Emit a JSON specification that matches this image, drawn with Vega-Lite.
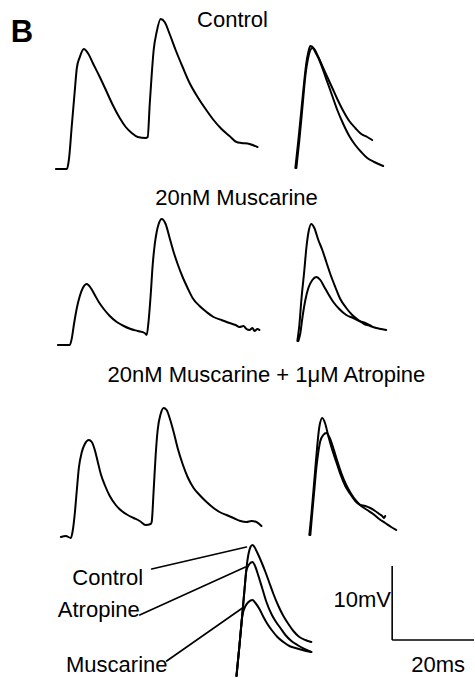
{
  "$schema": "https://vega.github.io/schema/vega-lite/v6.json",
  "width": 475,
  "height": 678,
  "autosize": {"type": "fit", "contains": "padding"},
  "padding": 0,
  "background": "white",
  "config": {"view": {"stroke": null}},
  "datasets": {
    "traces": [
      {"trace":"Control pair","t":56,"v":169},{"trace":"Control pair","t":67,"v":169},{"trace":"Control pair","t":69,"v":160},{"trace":"Control pair","t":72,"v":125},{"trace":"Control pair","t":75,"v":90},{"trace":"Control pair","t":77,"v":68},{"trace":"Control pair","t":80,"v":57},{"trace":"Control pair","t":84,"v":49},{"trace":"Control pair","t":88,"v":53},{"trace":"Control pair","t":93,"v":63},{"trace":"Control pair","t":100,"v":77},{"trace":"Control pair","t":107,"v":92},{"trace":"Control pair","t":113,"v":105},{"trace":"Control pair","t":120,"v":118},{"trace":"Control pair","t":126,"v":127},{"trace":"Control pair","t":132,"v":133},{"trace":"Control pair","t":138,"v":137},{"trace":"Control pair","t":146,"v":138},{"trace":"Control pair","t":148,"v":137},{"trace":"Control pair","t":150,"v":105},{"trace":"Control pair","t":152,"v":75},{"trace":"Control pair","t":154,"v":50},{"trace":"Control pair","t":157,"v":32},{"trace":"Control pair","t":161,"v":19},{"trace":"Control pair","t":165,"v":22},{"trace":"Control pair","t":170,"v":34},{"trace":"Control pair","t":176,"v":50},{"trace":"Control pair","t":183,"v":67},{"trace":"Control pair","t":190,"v":83},{"trace":"Control pair","t":198,"v":97},{"trace":"Control pair","t":206,"v":109},{"trace":"Control pair","t":214,"v":120},{"trace":"Control pair","t":222,"v":129},{"trace":"Control pair","t":230,"v":136},{"trace":"Control pair","t":237,"v":142},{"trace":"Control pair","t":242,"v":143},{"trace":"Control pair","t":250,"v":144},{"trace":"Control pair","t":258,"v":147},

      {"trace":"Control overlay 1","t":296,"v":168},{"trace":"Control overlay 1","t":299,"v":140},{"trace":"Control overlay 1","t":302,"v":110},{"trace":"Control overlay 1","t":305,"v":80},{"trace":"Control overlay 1","t":307,"v":63},{"trace":"Control overlay 1","t":309,"v":52},{"trace":"Control overlay 1","t":311,"v":46},{"trace":"Control overlay 1","t":315,"v":49},{"trace":"Control overlay 1","t":319,"v":57},{"trace":"Control overlay 1","t":323,"v":66},{"trace":"Control overlay 1","t":328,"v":77},{"trace":"Control overlay 1","t":333,"v":88},{"trace":"Control overlay 1","t":338,"v":99},{"trace":"Control overlay 1","t":344,"v":111},{"trace":"Control overlay 1","t":350,"v":121},{"trace":"Control overlay 1","t":356,"v":128},{"trace":"Control overlay 1","t":362,"v":134},{"trace":"Control overlay 1","t":368,"v":137},{"trace":"Control overlay 1","t":373,"v":140},

      {"trace":"Control overlay 2","t":297,"v":168},{"trace":"Control overlay 2","t":300,"v":140},{"trace":"Control overlay 2","t":303,"v":108},{"trace":"Control overlay 2","t":306,"v":76},{"trace":"Control overlay 2","t":309,"v":57},{"trace":"Control overlay 2","t":313,"v":48},{"trace":"Control overlay 2","t":317,"v":54},{"trace":"Control overlay 2","t":320,"v":60},{"trace":"Control overlay 2","t":323,"v":68},{"trace":"Control overlay 2","t":328,"v":82},{"trace":"Control overlay 2","t":333,"v":96},{"trace":"Control overlay 2","t":338,"v":110},{"trace":"Control overlay 2","t":344,"v":124},{"trace":"Control overlay 2","t":350,"v":136},{"trace":"Control overlay 2","t":356,"v":145},{"trace":"Control overlay 2","t":362,"v":152},{"trace":"Control overlay 2","t":368,"v":158},{"trace":"Control overlay 2","t":375,"v":162},{"trace":"Control overlay 2","t":384,"v":166},

      {"trace":"Muscarine pair","t":58,"v":345},{"trace":"Muscarine pair","t":70,"v":345},{"trace":"Muscarine pair","t":72,"v":338},{"trace":"Muscarine pair","t":74,"v":325},{"trace":"Muscarine pair","t":77,"v":308},{"trace":"Muscarine pair","t":80,"v":296},{"trace":"Muscarine pair","t":83,"v":288},{"trace":"Muscarine pair","t":87,"v":284},{"trace":"Muscarine pair","t":91,"v":288},{"trace":"Muscarine pair","t":95,"v":295},{"trace":"Muscarine pair","t":99,"v":302},{"trace":"Muscarine pair","t":104,"v":309},{"trace":"Muscarine pair","t":110,"v":316},{"trace":"Muscarine pair","t":117,"v":322},{"trace":"Muscarine pair","t":124,"v":326},{"trace":"Muscarine pair","t":131,"v":329},{"trace":"Muscarine pair","t":138,"v":331},{"trace":"Muscarine pair","t":145,"v":333},{"trace":"Muscarine pair","t":147,"v":335},{"trace":"Muscarine pair","t":149,"v":320},{"trace":"Muscarine pair","t":151,"v":295},{"trace":"Muscarine pair","t":153,"v":265},{"trace":"Muscarine pair","t":155,"v":245},{"trace":"Muscarine pair","t":157,"v":232},{"trace":"Muscarine pair","t":159,"v":224},{"trace":"Muscarine pair","t":162,"v":219},{"trace":"Muscarine pair","t":166,"v":224},{"trace":"Muscarine pair","t":170,"v":238},{"trace":"Muscarine pair","t":174,"v":252},{"trace":"Muscarine pair","t":178,"v":264},{"trace":"Muscarine pair","t":183,"v":277},{"trace":"Muscarine pair","t":188,"v":288},{"trace":"Muscarine pair","t":193,"v":298},{"trace":"Muscarine pair","t":200,"v":306},{"trace":"Muscarine pair","t":207,"v":312},{"trace":"Muscarine pair","t":214,"v":317},{"trace":"Muscarine pair","t":222,"v":320},{"trace":"Muscarine pair","t":230,"v":323},{"trace":"Muscarine pair","t":236,"v":325},{"trace":"Muscarine pair","t":240,"v":327},{"trace":"Muscarine pair","t":244,"v":326},{"trace":"Muscarine pair","t":247,"v":329},{"trace":"Muscarine pair","t":250,"v":330},{"trace":"Muscarine pair","t":253,"v":328},{"trace":"Muscarine pair","t":255,"v":331},{"trace":"Muscarine pair","t":258,"v":329},{"trace":"Muscarine pair","t":260,"v":330},

      {"trace":"Muscarine overlay 1","t":298,"v":341},{"trace":"Muscarine overlay 1","t":300,"v":325},{"trace":"Muscarine overlay 1","t":302,"v":300},{"trace":"Muscarine overlay 1","t":305,"v":270},{"trace":"Muscarine overlay 1","t":307,"v":248},{"trace":"Muscarine overlay 1","t":309,"v":233},{"trace":"Muscarine overlay 1","t":312,"v":224},{"trace":"Muscarine overlay 1","t":315,"v":228},{"trace":"Muscarine overlay 1","t":319,"v":240},{"trace":"Muscarine overlay 1","t":323,"v":250},{"trace":"Muscarine overlay 1","t":327,"v":262},{"trace":"Muscarine overlay 1","t":331,"v":274},{"trace":"Muscarine overlay 1","t":336,"v":287},{"trace":"Muscarine overlay 1","t":341,"v":299},{"trace":"Muscarine overlay 1","t":347,"v":308},{"trace":"Muscarine overlay 1","t":353,"v":315},{"trace":"Muscarine overlay 1","t":359,"v":320},{"trace":"Muscarine overlay 1","t":365,"v":324},{"trace":"Muscarine overlay 1","t":371,"v":326},{"trace":"Muscarine overlay 1","t":377,"v":328},{"trace":"Muscarine overlay 1","t":382,"v":329},{"trace":"Muscarine overlay 1","t":387,"v":330},

      {"trace":"Muscarine overlay 2","t":299,"v":341},{"trace":"Muscarine overlay 2","t":301,"v":333},{"trace":"Muscarine overlay 2","t":303,"v":318},{"trace":"Muscarine overlay 2","t":306,"v":300},{"trace":"Muscarine overlay 2","t":309,"v":288},{"trace":"Muscarine overlay 2","t":313,"v":280},{"trace":"Muscarine overlay 2","t":317,"v":277},{"trace":"Muscarine overlay 2","t":321,"v":280},{"trace":"Muscarine overlay 2","t":325,"v":287},{"trace":"Muscarine overlay 2","t":329,"v":294},{"trace":"Muscarine overlay 2","t":334,"v":302},{"trace":"Muscarine overlay 2","t":340,"v":309},{"trace":"Muscarine overlay 2","t":347,"v":315},{"trace":"Muscarine overlay 2","t":354,"v":318},{"trace":"Muscarine overlay 2","t":360,"v":321},{"trace":"Muscarine overlay 2","t":366,"v":323},{"trace":"Muscarine overlay 2","t":372,"v":326},

      {"trace":"Atropine pair","t":61,"v":537},{"trace":"Atropine pair","t":66,"v":536},{"trace":"Atropine pair","t":71,"v":538},{"trace":"Atropine pair","t":73,"v":530},{"trace":"Atropine pair","t":75,"v":513},{"trace":"Atropine pair","t":77,"v":490},{"trace":"Atropine pair","t":79,"v":468},{"trace":"Atropine pair","t":82,"v":452},{"trace":"Atropine pair","t":85,"v":444},{"trace":"Atropine pair","t":89,"v":440},{"trace":"Atropine pair","t":92,"v":442},{"trace":"Atropine pair","t":95,"v":450},{"trace":"Atropine pair","t":98,"v":462},{"trace":"Atropine pair","t":101,"v":474},{"trace":"Atropine pair","t":105,"v":485},{"trace":"Atropine pair","t":110,"v":496},{"trace":"Atropine pair","t":116,"v":505},{"trace":"Atropine pair","t":122,"v":511},{"trace":"Atropine pair","t":128,"v":515},{"trace":"Atropine pair","t":134,"v":518},{"trace":"Atropine pair","t":140,"v":521},{"trace":"Atropine pair","t":146,"v":525},{"trace":"Atropine pair","t":151,"v":524},{"trace":"Atropine pair","t":152,"v":522},{"trace":"Atropine pair","t":154,"v":490},{"trace":"Atropine pair","t":156,"v":455},{"trace":"Atropine pair","t":158,"v":430},{"trace":"Atropine pair","t":161,"v":414},{"trace":"Atropine pair","t":164,"v":408},{"trace":"Atropine pair","t":167,"v":410},{"trace":"Atropine pair","t":170,"v":418},{"trace":"Atropine pair","t":174,"v":432},{"trace":"Atropine pair","t":178,"v":448},{"trace":"Atropine pair","t":183,"v":464},{"trace":"Atropine pair","t":188,"v":477},{"trace":"Atropine pair","t":194,"v":488},{"trace":"Atropine pair","t":200,"v":495},{"trace":"Atropine pair","t":207,"v":502},{"trace":"Atropine pair","t":214,"v":508},{"trace":"Atropine pair","t":220,"v":512},{"trace":"Atropine pair","t":227,"v":515},{"trace":"Atropine pair","t":234,"v":518},{"trace":"Atropine pair","t":241,"v":521},{"trace":"Atropine pair","t":247,"v":522},{"trace":"Atropine pair","t":252,"v":521},{"trace":"Atropine pair","t":257,"v":522},{"trace":"Atropine pair","t":262,"v":526},

      {"trace":"Atropine overlay 1","t":310,"v":535},{"trace":"Atropine overlay 1","t":312,"v":515},{"trace":"Atropine overlay 1","t":314,"v":492},{"trace":"Atropine overlay 1","t":316,"v":468},{"trace":"Atropine overlay 1","t":318,"v":445},{"trace":"Atropine overlay 1","t":320,"v":427},{"trace":"Atropine overlay 1","t":323,"v":418},{"trace":"Atropine overlay 1","t":326,"v":424},{"trace":"Atropine overlay 1","t":329,"v":436},{"trace":"Atropine overlay 1","t":333,"v":450},{"trace":"Atropine overlay 1","t":337,"v":462},{"trace":"Atropine overlay 1","t":341,"v":474},{"trace":"Atropine overlay 1","t":346,"v":486},{"trace":"Atropine overlay 1","t":351,"v":494},{"trace":"Atropine overlay 1","t":356,"v":501},{"trace":"Atropine overlay 1","t":361,"v":505},{"trace":"Atropine overlay 1","t":366,"v":506},{"trace":"Atropine overlay 1","t":371,"v":508},{"trace":"Atropine overlay 1","t":376,"v":511},{"trace":"Atropine overlay 1","t":380,"v":514},{"trace":"Atropine overlay 1","t":383,"v":516},{"trace":"Atropine overlay 1","t":385,"v":518},{"trace":"Atropine overlay 1","t":386,"v":516},

      {"trace":"Atropine overlay 2","t":311,"v":535},{"trace":"Atropine overlay 2","t":313,"v":512},{"trace":"Atropine overlay 2","t":315,"v":490},{"trace":"Atropine overlay 2","t":317,"v":468},{"trace":"Atropine overlay 2","t":319,"v":452},{"trace":"Atropine overlay 2","t":321,"v":441},{"trace":"Atropine overlay 2","t":324,"v":435},{"trace":"Atropine overlay 2","t":327,"v":433},{"trace":"Atropine overlay 2","t":330,"v":437},{"trace":"Atropine overlay 2","t":334,"v":448},{"trace":"Atropine overlay 2","t":338,"v":461},{"trace":"Atropine overlay 2","t":342,"v":473},{"trace":"Atropine overlay 2","t":347,"v":485},{"trace":"Atropine overlay 2","t":352,"v":494},{"trace":"Atropine overlay 2","t":357,"v":501},{"trace":"Atropine overlay 2","t":362,"v":506},{"trace":"Atropine overlay 2","t":368,"v":510},{"trace":"Atropine overlay 2","t":374,"v":514},{"trace":"Atropine overlay 2","t":380,"v":519},{"trace":"Atropine overlay 2","t":386,"v":523},{"trace":"Atropine overlay 2","t":392,"v":527},{"trace":"Atropine overlay 2","t":397,"v":530},

      {"trace":"Compare Control","t":237,"v":676},{"trace":"Compare Control","t":240,"v":645},{"trace":"Compare Control","t":243,"v":612},{"trace":"Compare Control","t":245,"v":590},{"trace":"Compare Control","t":247,"v":568},{"trace":"Compare Control","t":249,"v":554},{"trace":"Compare Control","t":251,"v":547},{"trace":"Compare Control","t":253,"v":545},{"trace":"Compare Control","t":255,"v":547},{"trace":"Compare Control","t":258,"v":553},{"trace":"Compare Control","t":262,"v":562},{"trace":"Compare Control","t":266,"v":572},{"trace":"Compare Control","t":270,"v":583},{"trace":"Compare Control","t":274,"v":594},{"trace":"Compare Control","t":279,"v":606},{"trace":"Compare Control","t":284,"v":616},{"trace":"Compare Control","t":289,"v":624},{"trace":"Compare Control","t":294,"v":631},{"trace":"Compare Control","t":300,"v":637},{"trace":"Compare Control","t":306,"v":640},{"trace":"Compare Control","t":312,"v":642},

      {"trace":"Compare Atropine","t":237,"v":676},{"trace":"Compare Atropine","t":240,"v":645},{"trace":"Compare Atropine","t":243,"v":612},{"trace":"Compare Atropine","t":245,"v":590},{"trace":"Compare Atropine","t":247,"v":570},{"trace":"Compare Atropine","t":250,"v":564},{"trace":"Compare Atropine","t":253,"v":562},{"trace":"Compare Atropine","t":256,"v":567},{"trace":"Compare Atropine","t":259,"v":576},{"trace":"Compare Atropine","t":263,"v":589},{"trace":"Compare Atropine","t":267,"v":602},{"trace":"Compare Atropine","t":272,"v":614},{"trace":"Compare Atropine","t":276,"v":621},{"trace":"Compare Atropine","t":281,"v":628},{"trace":"Compare Atropine","t":286,"v":635},{"trace":"Compare Atropine","t":292,"v":641},{"trace":"Compare Atropine","t":298,"v":645},{"trace":"Compare Atropine","t":305,"v":649},{"trace":"Compare Atropine","t":312,"v":652},

      {"trace":"Compare Muscarine","t":237,"v":676},{"trace":"Compare Muscarine","t":240,"v":645},{"trace":"Compare Muscarine","t":243,"v":615},{"trace":"Compare Muscarine","t":246,"v":606},{"trace":"Compare Muscarine","t":249,"v":602},{"trace":"Compare Muscarine","t":253,"v":600},{"trace":"Compare Muscarine","t":256,"v":603},{"trace":"Compare Muscarine","t":260,"v":609},{"trace":"Compare Muscarine","t":264,"v":617},{"trace":"Compare Muscarine","t":268,"v":624},{"trace":"Compare Muscarine","t":273,"v":631},{"trace":"Compare Muscarine","t":278,"v":637},{"trace":"Compare Muscarine","t":284,"v":642},{"trace":"Compare Muscarine","t":290,"v":646},{"trace":"Compare Muscarine","t":296,"v":648},{"trace":"Compare Muscarine","t":303,"v":650},{"trace":"Compare Muscarine","t":312,"v":652}
    ],
    "pointers": [
      {"trace":"Control","t":152,"v":569},{"trace":"Control","t":247,"v":547},
      {"trace":"Atropine","t":140,"v":615},{"trace":"Atropine","t":246,"v":567},
      {"trace":"Muscarine","t":167,"v":661},{"trace":"Muscarine","t":243,"v":608}
    ],
    "scalebar": [
      {"bar":"10mV","t":393,"v":566,"t2":393,"v2":640},
      {"bar":"20ms","t":393,"v":640,"t2":475,"v2":640}
    ],
    "labels": [
      {"text":"Control","t":233,"v":26.5},
      {"text":"20nM Muscarine","t":237,"v":205},
      {"text":"20nM Muscarine + 1μM Atropine","t":267,"v":381.5},
      {"text":"Control","t":108,"v":585},
      {"text":"Atropine","t":99,"v":617},
      {"text":"Muscarine","t":117,"v":672},
      {"text":"10mV","t":363,"v":606.5},
      {"text":"20ms","t":439,"v":671.5}
    ],
    "panel": [
      {"text":"B","t":22,"v":41.5}
    ]
  },
  "layer": [
    {
      "data": {"name": "traces"},
      "mark": {"type": "line", "color": "black", "strokeWidth": 2, "interpolate": "monotone", "strokeCap": "round", "strokeJoin": "round"},
      "encoding": {
        "x": {"field": "t", "type": "quantitative", "scale": {"domain": [0, 475], "nice": false, "zero": false}, "axis": null},
        "y": {"field": "v", "type": "quantitative", "scale": {"domain": [0, 678], "nice": false, "zero": false, "reverse": true}, "axis": null},
        "detail": {"field": "trace"}
      }
    },
    {
      "data": {"name": "pointers"},
      "mark": {"type": "line", "color": "black", "strokeWidth": 1.6, "strokeCap": "round"},
      "encoding": {
        "x": {"field": "t", "type": "quantitative", "axis": null},
        "y": {"field": "v", "type": "quantitative", "axis": null},
        "detail": {"field": "trace"}
      }
    },
    {
      "data": {"name": "scalebar"},
      "mark": {"type": "rule", "color": "black", "strokeWidth": 1.6},
      "encoding": {
        "x": {"field": "t", "type": "quantitative", "axis": null},
        "y": {"field": "v", "type": "quantitative", "axis": null},
        "x2": {"field": "t2"},
        "y2": {"field": "v2"}
      }
    },
    {
      "data": {"name": "labels"},
      "mark": {"type": "text", "font": "Liberation Sans", "fontSize": 22, "color": "black", "align": "center", "baseline": "alphabetic"},
      "encoding": {
        "x": {"field": "t", "type": "quantitative", "axis": null},
        "y": {"field": "v", "type": "quantitative", "axis": null},
        "text": {"field": "text"}
      }
    },
    {
      "data": {"name": "panel"},
      "mark": {"type": "text", "font": "Liberation Sans", "fontSize": 31, "fontWeight": "bold", "color": "black", "align": "center", "baseline": "alphabetic"},
      "encoding": {
        "x": {"field": "t", "type": "quantitative", "axis": null},
        "y": {"field": "v", "type": "quantitative", "axis": null},
        "text": {"field": "text"}
      }
    }
  ]
}
